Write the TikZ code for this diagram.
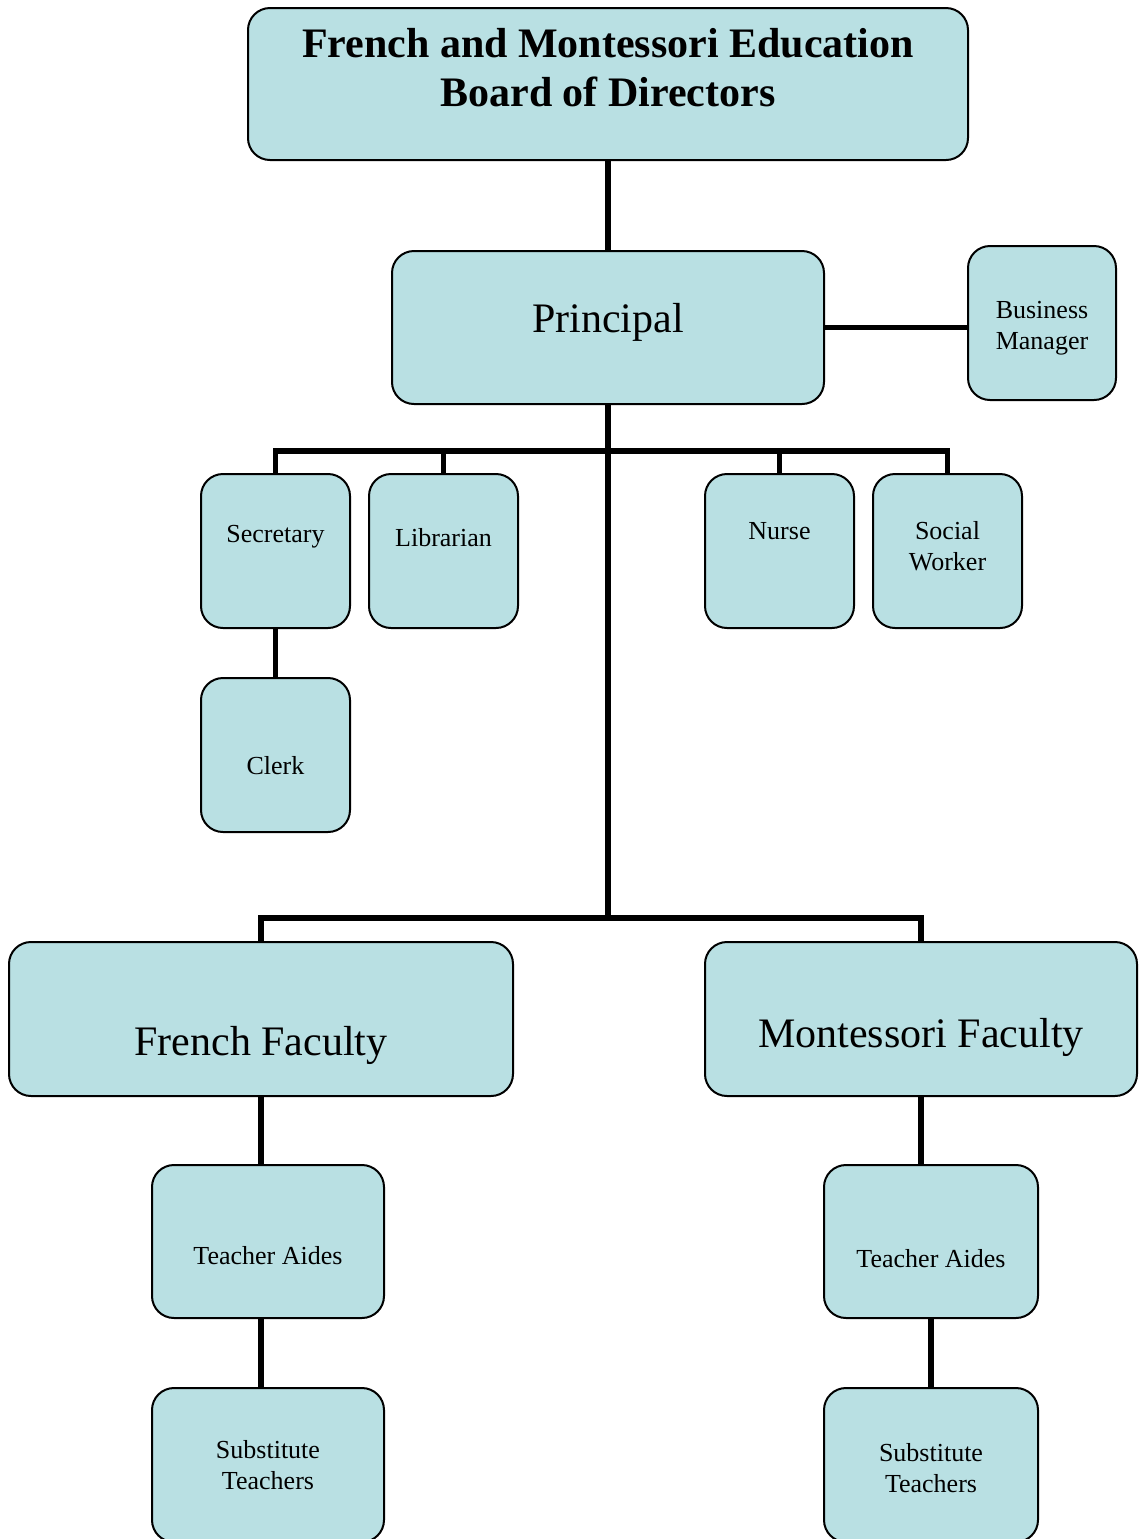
\documentclass[tikz,border=0pt]{standalone}
\usepackage{fontspec}
\setmainfont{Liberation Serif}
\usetikzlibrary{positioning}
\definecolor{boxblue}{HTML}{B9E0E3}

\begin{document}
\begin{tikzpicture}[x=0.5pt, y=-0.5pt, on grid,
    box/.style={draw=black, fill=boxblue, line width=1pt, rounded corners=11pt,
      align=center, inner sep=0pt, font=\fontsize{13}{15.5}\selectfont},
    big/.style={font=\fontsize{21}{24.5}\selectfont},
    link/.style={draw=black, line width=2.6pt}]
      \useasboundingbox (0,0) rectangle (1139,1539);

      % board and principal
      \node[box, font=\fontsize{21}{24.5}\selectfont\bfseries, minimum width=360pt,
        minimum height=76pt, text depth=17pt] (board) at (608,84)
        {French and Montessori Education\\Board of Directors};
      \node[box, big, minimum width=216pt, minimum height=76.5pt, text depth=9.6pt,
        below=121.75pt of board] (principal) {Principal};
      \node[box, minimum width=74pt, minimum height=77pt, text height=29.4pt,
        above right=2.25pt and 217pt of principal] (busmgr) {Business\\Manager};

      % staff
      \node[box, minimum width=74.5pt, minimum height=77pt, text depth=17.3pt,
        below left=111.75pt and 166.25pt of principal] (secretary) {Secretary};
      \node[box, minimum width=74.5pt, minimum height=77pt, text depth=14pt,
        right=84pt of secretary] (librarian) {Librarian};
      \node[box, minimum width=74.5pt, minimum height=77pt, text depth=20pt,
        right=168pt of librarian] (nurse) {Nurse};
      \node[box, minimum width=74.5pt, minimum height=77pt, text depth=5pt,
        right=84pt of nurse] (social) {Social\\Worker};
      \node[box, minimum width=74.5pt, minimum height=77pt, text height=19.9pt,
        below=102pt of secretary] (clerk) {Clerk};

      % faculty
      \node[box, big, minimum width=252pt, minimum height=77pt, text height=41.5pt,
        below left=345.75pt and 173.5pt of principal] (french) {French Faculty};
      \node[box, big, minimum width=216pt, minimum height=77pt, text height=33.5pt,
        right=330pt of french] (montessori) {Montessori Faculty};
      \node[box, minimum width=116pt, minimum height=76.5pt, text height=23.4pt,
        below right=111.25pt and 3.5pt of french] (aidesF) {Teacher Aides};
      \node[box, minimum width=116pt, minimum height=77pt,
        below=111.75pt of aidesF] (subsF) {Substitute\\Teachers};
      \node[box, minimum width=107pt, minimum height=76.5pt, text height=26.4pt,
        right=331.5pt of aidesF] (aidesM) {Teacher Aides};
      \node[box, minimum width=107pt, minimum height=77pt, text height=27.4pt,
        below=111.75pt of aidesM] (subsM) {Substitute\\Teachers};

      \coordinate[below=23pt of principal.south] (staffbus);
      \coordinate[below=256.5pt of principal.south] (facbus);

      \draw[link] (board) -- (principal);
      \draw[link] (principal.east) -- (principal.east -| busmgr.west);
      \draw[link] (principal) -- (facbus);
      \foreach \n in {secretary, librarian, nurse, social}
      \draw[link] (\n.north) |- (staffbus);
      \draw[link] (secretary) -- (clerk);
      \foreach \n in {french, montessori}
      \draw[link] (\n.north) |- (facbus);
      \draw[link] (french.south) -- (french.south |- aidesF.north);
      \draw[link] (aidesF.south -| french) -- (subsF.north -| french);
      \draw[link] (montessori.south) -- (montessori.south |- aidesM.north);
      \draw[link] (aidesM) -- (subsM);
    \end{tikzpicture}
\end{document}
